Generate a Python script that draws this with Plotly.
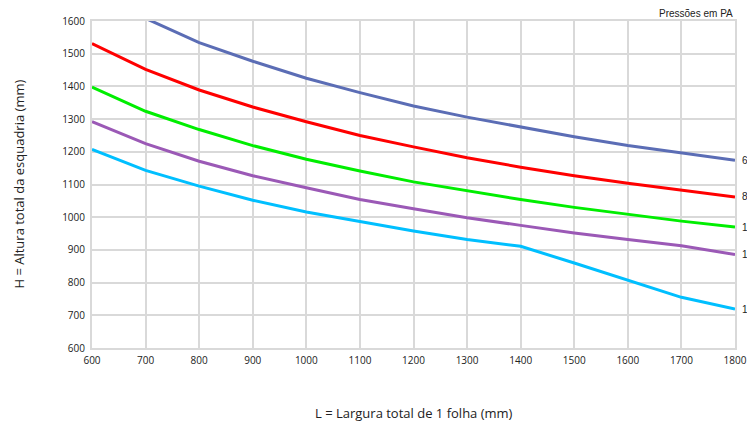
import plotly.graph_objects as go

larguras = [600, 700, 800, 900, 1000, 1100, 1200, 1300, 1400, 1500, 1600, 1700, 1800]

serie_600 = [None, 1608, 1534, 1477, 1425, 1381, 1340, 1306, 1276, 1246, 1219, 1196, 1174]
serie_850 = [1531, 1452, 1389, 1337, 1292, 1250, 1215, 1182, 1153, 1127, 1104, 1082, 1062]
serie_1100 = [1398, 1324, 1268, 1219, 1177, 1141, 1108, 1080, 1054, 1030, 1008, 988, 970]
serie_1400 = [1292, 1225, 1171, 1127, 1090, 1054, 1026, 998, 975, 952, 932, 913, 886]
serie_1800 = [1207, 1143, 1095, 1052, 1016, 986, 958, 932, 911, 860, 807, 755, 719]

series = [
    ("600", serie_600, "#5b6db5"),
    ("850", serie_850, "#ff0000"),
    ("1100", serie_1100, "#00ee00"),
    ("1400", serie_1400, "#9b59b6"),
    ("1800", serie_1800, "#00bfff"),
]

fig = go.Figure()
for nome, vals, cor in series:
    fig.add_trace(go.Scatter(
        x=larguras, y=vals, mode="lines", name=nome,
        line=dict(color=cor, width=3), connectgaps=False,
    ))
    fig.add_annotation(
        x=1800, y=vals[-1], xref="x", yref="y", text=nome,
        showarrow=False, xanchor="left", yanchor="middle", xshift=5,
        font=dict(family="Liberation Sans, Arial, sans-serif", size=10, color="#222"),
    )

grid = "#d9d9d9"
fig.update_xaxes(
    range=[600, 1800], dtick=100, tick0=600, automargin=False,
    showgrid=True, gridcolor=grid, gridwidth=2,
    showline=True, linecolor=grid, linewidth=2, mirror=True,
    zeroline=False, ticks="", ticklabelstandoff=2,
    tickfont=dict(family="Open Sans, sans-serif", size=10, color="#222"),
)
fig.update_yaxes(
    range=[600, 1600], dtick=100, tick0=600, automargin=False,
    showgrid=True, gridcolor=grid, gridwidth=2,
    showline=True, linecolor=grid, linewidth=2, mirror=True,
    zeroline=False, ticks="", ticklabelstandoff=3,
    tickfont=dict(family="Open Sans, sans-serif", size=10, color="#222"),
)

fig.add_annotation(
    x=0.5, y=-0.2, xref="paper", yref="paper", yanchor="middle",
    text="L = Largura total de 1 folha (mm)", showarrow=False,
    font=dict(family="Open Sans, sans-serif", size=13, color="#222"),
)
fig.add_annotation(
    x=-0.115, y=0.5, xref="paper", yref="paper", xanchor="center",
    text="H = Altura total da esquadria (mm)", showarrow=False, textangle=-90,
    font=dict(family="Open Sans, sans-serif", size=13, color="#222"),
)
fig.add_annotation(
    x=1.0, y=1.0, xref="paper", yref="paper", xanchor="right", yanchor="bottom",
    text="Pressões em PA", showarrow=False, yshift=0,
    font=dict(family="Liberation Sans, Arial, sans-serif", size=10, color="#222"),
)

fig.update_layout(
    width=747, height=429,
    margin=dict(l=92, r=12, t=21, b=81, autoexpand=False),
    paper_bgcolor="white", plot_bgcolor="white",
    showlegend=False,
)

fig.write_html(
    "out.html",
    config={"displayModeBar": False},
    post_script="document.body.style.margin='0px';document.body.style.overflow='hidden';",
)
